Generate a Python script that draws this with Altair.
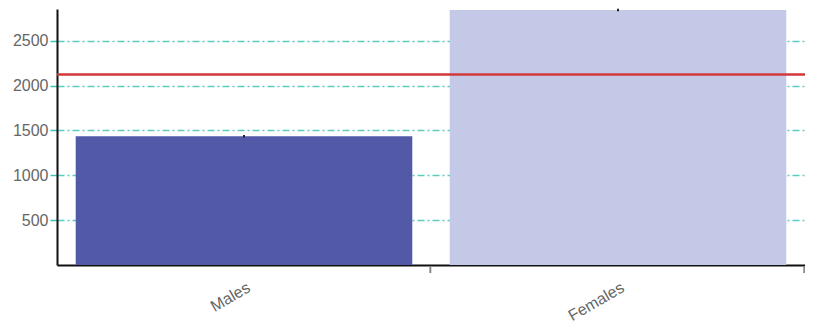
import altair as alt
import pandas as pd

categories = ["Males", "Females"]
values = [1437, 2844]
errors = [14, 14]
bar_colors = ["#525aa8", "#c5c9e8"]
reference_value = 2124
y_ticks = [500, 1000, 1500, 2000, 2500]

df = pd.DataFrame({
    "cat": categories,
    "value": values,
    "lo": [v - e for v, e in zip(values, errors)],
    "hi": [v + e for v, e in zip(values, errors)],
})

xenc = alt.X("cat:N", sort=categories, title=None,
             scale=alt.Scale(paddingInner=0.1, paddingOuter=0.05),
             axis=alt.Axis(labelAngle=-30, labelFontSize=16, labelColor="#666666",
                           labelFont="Arial", ticks=False, domainColor="#111111",
                           domainWidth=2, labelPadding=21, labelOffset=5, labelAlign="right",
                           labelBaseline="middle"))
yscale = alt.Scale(domain=[0, 2855], nice=False)
yaxis = alt.Axis(values=y_ticks, format="d", title=None, labelFontSize=16, labelColor="#666666",
                 labelFont="Arial", grid=True, gridColor="#3cc4b4", gridDash=[7, 3, 2, 3],
                 gridWidth=1.5, gridOpacity=0.85, tickColor="#3cc4b4", tickDash=[7, 3, 2, 3],
                 tickSize=8, tickWidth=1.5, labelPadding=1, domainColor="#111111",
                 domainWidth=2)

bars = alt.Chart(df).mark_bar().encode(
    x=xenc,
    y=alt.Y("value:Q", scale=yscale, axis=yaxis),
    color=alt.Color("cat:N", scale=alt.Scale(domain=categories, range=bar_colors), legend=None),
)

err = alt.Chart(df).mark_rule(color="#222222", strokeWidth=2).encode(
    x=alt.X("cat:N", sort=categories),
    y=alt.Y("lo:Q", scale=yscale),
    y2="hi:Q",
)

xticks = alt.Chart(df).mark_rule(color="#888888", strokeWidth=2, xOffset=18).encode(
    x=alt.X("cat:N", sort=categories, bandPosition=1),
    y=alt.value(257),
    y2=alt.value(264),
)

ref = alt.Chart(pd.DataFrame({"ref": [reference_value]})).mark_rule(
    color="#d0393b", strokeWidth=2.5
).encode(y=alt.Y("ref:Q", scale=yscale))

chart = alt.layer(bars, err, ref, xticks).properties(
    width=748, height=256,
    autosize=alt.AutoSizeParams(type="none"),
    padding={"left": 49, "top": 1, "right": 0, "bottom": 60},
).configure_view(stroke=None).configure_axis(labelFont="Arial")

chart.save("out.html", embed_options={"renderer": "svg", "actions": False})
